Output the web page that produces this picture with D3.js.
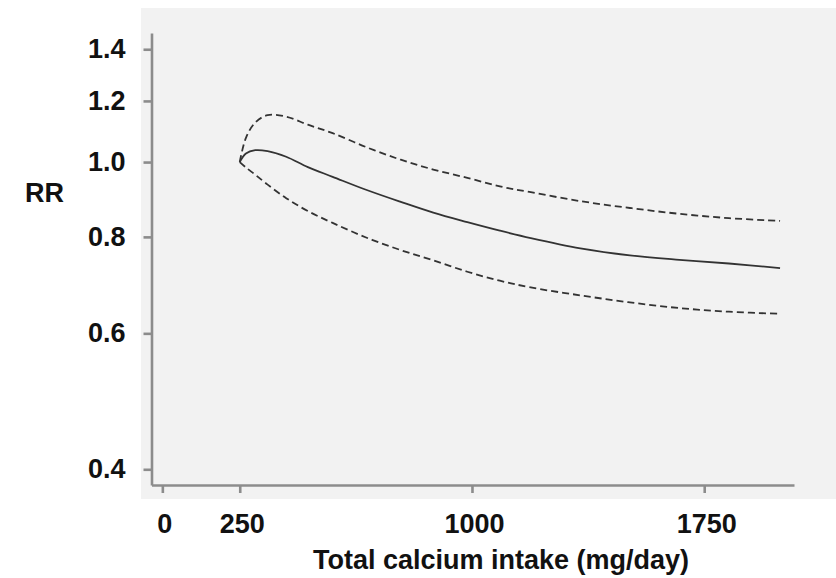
<!DOCTYPE html>
<html>
<head>
<meta charset="utf-8">
<script src="https://cdn.jsdelivr.net/npm/d3@7"></script>
<style>
  body { margin: 0; background: #fff; }
  svg { display: block; }
  text { font-family: "Liberation Sans", Arial, sans-serif; font-weight: bold; fill: #111; }
</style>
</head>
<body>
<svg width="836" height="578"></svg>
<script>
// calcium intake (mg/day) and relative risk
const intake  = [250, 270, 300, 340, 400, 470, 550, 660, 770, 875, 985, 1090, 1190, 1350, 1510, 1670, 1830, 1995];
const rrEst   = [1.0, 1.026, 1.036, 1.033, 1.016, 0.985, 0.957, 0.920, 0.888, 0.860, 0.836, 0.815, 0.797, 0.773, 0.757, 0.747, 0.739, 0.729];
const rrUpper = [1.0, 1.075, 1.125, 1.150, 1.145, 1.118, 1.090, 1.045, 1.007, 0.978, 0.954, 0.930, 0.914, 0.890, 0.872, 0.857, 0.846, 0.839];
const rrLower = [1.0, 0.984, 0.963, 0.935, 0.898, 0.864, 0.834, 0.798, 0.769, 0.746, 0.721, 0.702, 0.688, 0.672, 0.658, 0.647, 0.640, 0.636];

const xTicks = [0, 250, 1000, 1750];
const yTicks = [0.4, 0.6, 0.8, 1.0, 1.2, 1.4];

const svg = d3.select('svg');

// grey plot panel
svg.append('rect')
  .attr('x', 141).attr('y', 8)
  .attr('width', 695).attr('height', 491)
  .attr('fill', '#f2f2f2');

const x = d3.scaleLinear()
  .domain([-35, 2040])
  .range([151.5, 794]);

const y = d3.scaleLog()
  .domain([0.3817, 1.4695])
  .range([485, 33]);

// axes
const xAxis = svg.append('g')
  .attr('transform', 'translate(0,485)')
  .call(d3.axisBottom(x).tickValues(xTicks).tickSize(8).tickSizeOuter(0).tickPadding(21)
    .tickFormat(d3.format('d')));

const yAxis = svg.append('g')
  .attr('transform', 'translate(151.5,0)')
  .call(d3.axisLeft(y).tickValues(yTicks).tickSize(8).tickSizeOuter(0).tickPadding(18)
    .tickFormat(d3.format('.1f')));

[xAxis, yAxis].forEach(g => {
  g.select('.domain').attr('stroke', '#8c8c8c').attr('stroke-width', 2.6);
  g.selectAll('.tick line').attr('stroke', '#8c8c8c').attr('stroke-width', 2.6);
  g.selectAll('.tick text').attr('font-size', 27).attr('fill', '#111');
});
xAxis.selectAll('.tick text').attr('dx', 2);

// curves
const line = d3.line()
  .x(d => x(d[0]))
  .y(d => y(d[1]))
  .curve(d3.curveCatmullRom.alpha(0.5));

const series = [
  { vals: rrUpper, dash: '7,4' },
  { vals: rrEst, dash: null },
  { vals: rrLower, dash: '7,4' }
];

svg.selectAll('path.curve')
  .data(series)
  .enter()
  .append('path')
    .attr('class', 'curve')
    .attr('d', s => line(intake.map((v, i) => [v, s.vals[i]])))
    .attr('fill', 'none')
    .attr('stroke', '#333')
    .attr('stroke-width', 1.8)
    .attr('stroke-dasharray', s => s.dash);

// axis titles
svg.append('text')
  .attr('x', 25).attr('y', 202)
  .attr('font-size', 27)
  .text('RR');

svg.append('text')
  .attr('x', 501).attr('y', 569)
  .attr('text-anchor', 'middle')
  .attr('font-size', 27)
  .text('Total calcium intake (mg/day)');
</script>
</body>
</html>
